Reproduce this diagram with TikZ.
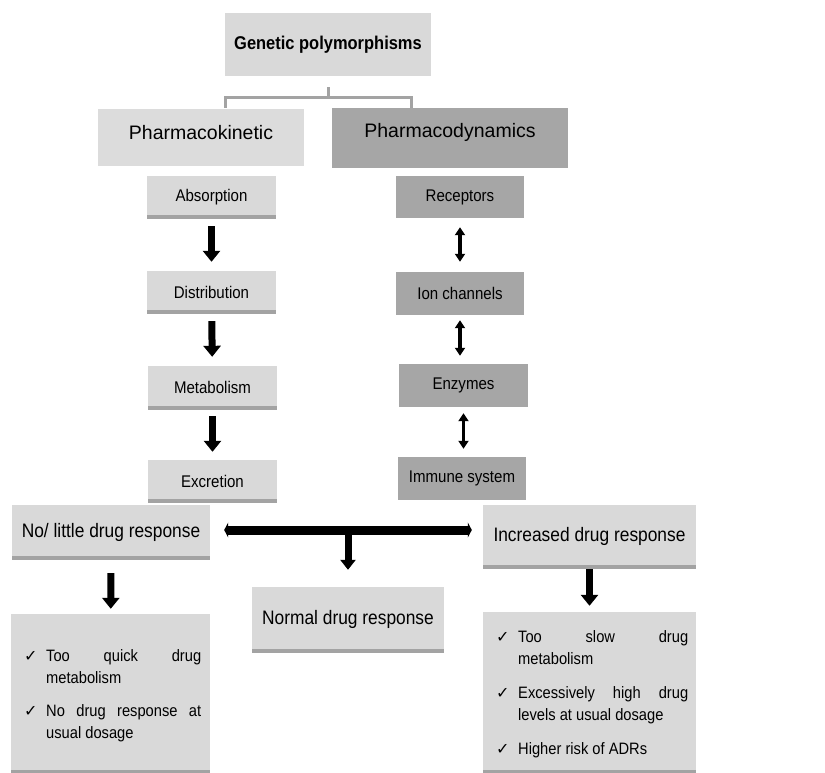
\documentclass[tikz,border=0pt]{standalone}
\usepackage{fontspec}
\setmainfont{Liberation Sans}
\newfontfamily\narrowfont[FakeStretch=0.89]{Liberation Sans}
\newfontfamily\symfont{DejaVu Sans}
\usetikzlibrary{arrows.meta}
\definecolor{lightbox}{HTML}{D9D9D9}
\definecolor{pkbox}{HTML}{DCDCDC}
\definecolor{darkbox}{HTML}{A6A6A6}
\definecolor{edgegray}{HTML}{A3A3A3}
\newcommand{\chk}{\makebox[22pt][l]{\symfont\fontsize{16}{16}\selectfont ✓}}
\tikzset{
  box/.style={rectangle, inner sep=0pt, text=black},
  lbox/.style={box, fill=lightbox, path picture={\draw[edgegray, line width=6pt] (path picture bounding box.south west) -- (path picture bounding box.south east);}},
  dbox/.style={box, fill=darkbox},
  smallfont/.style={font=\narrowfont\fontsize{16.9}{20}\selectfont},
  midfont/.style={font=\narrowfont\fontsize{19.5}{23}\selectfont},
  bigfont/.style={font=\fontsize{19.5}{23}\selectfont},
  listfont/.style={font=\narrowfont\fontsize{16.5}{22}\selectfont},
  flowarrow/.style={line width=7pt, -{Triangle[length=11pt,width=17pt]}},
  linkarrow/.style={line width=3.5pt, {Triangle[length=8pt,width=10pt]}-{Triangle[length=8pt,width=10pt]}},
  barrow/.style={line width=9pt, {Triangle[length=4pt,width=15pt]}-{Triangle[length=4pt,width=15pt]}},
  bracket/.style={edgegray, line width=3pt},
}
\begin{document}
\begin{tikzpicture}[x=1pt,y=-1pt]
\useasboundingbox (0,0) rectangle (825,773);
% top
\node[box, fill=lightbox, minimum width=206pt, minimum height=63pt, font=\narrowfont\bfseries\fontsize{18.5}{22}\selectfont] (gen) at (328,44.5) {Genetic polymorphisms};
\node[box, fill=pkbox, minimum width=206pt, minimum height=57pt, bigfont, text height=14pt, text depth=10pt] (pk) at (201,137.5) {Pharmacokinetic};
\node[dbox, minimum width=236pt, minimum height=60pt, bigfont, text height=14pt, text depth=15pt] (pd) at (450,138) {Pharmacodynamics};
\coordinate (bl) at (225,108);
\coordinate (br) at (411,108);
\draw[bracket] ([yshift=-11pt]gen.south) -- ++(0,10) coordinate (bj);
\draw[bracket] (bl) |- (bj) -| (br);
% pharmacokinetic chain
\node[lbox, minimum width=129pt, minimum height=42pt, smallfont] (abs) at (211.5,197) {Absorption};
\node[lbox, minimum width=129pt, minimum height=42pt, smallfont] (dist) at (211.5,292) {Distribution};
\node[lbox, minimum width=129pt, minimum height=43pt, smallfont] (met) at (212.5,387.5) {Metabolism};
\node[lbox, minimum width=129pt, minimum height=42pt, smallfont] (exc) at (212.5,481) {Excretion};
\draw[flowarrow, shorten <=8pt, shorten >=9pt] (abs) -- (dist);
\draw[flowarrow, shorten <=8pt, shorten >=9pt] (dist) -- (met);
\draw[flowarrow, shorten <=7pt, shorten >=8pt] (met) -- (exc);
% pharmacodynamic chain
\node[dbox, minimum width=128pt, minimum height=42pt, smallfont] (rec) at (460,197) {Receptors};
\node[dbox, minimum width=128pt, minimum height=43pt, smallfont] (ion) at (460,293.5) {Ion channels};
\node[dbox, minimum width=129pt, minimum height=43pt, smallfont] (enz) at (463.5,385.5) {Enzymes};
\node[dbox, minimum width=128pt, minimum height=43pt, smallfont] (imm) at (462,478.5) {Immune system};
\draw[linkarrow, shorten <=9pt, shorten >=10pt] (rec.south) -- (rec.south |- ion.north);
\draw[linkarrow, shorten <=5pt, shorten >=8pt] (ion.south) -- (ion.south |- enz.north);
\draw[linkarrow, shorten <=6pt, shorten >=8pt] (enz.south) -- (enz.south |- imm.north);
% responses
\node[lbox, minimum width=198pt, minimum height=54pt, midfont] (nol) at (111,532) {No/ little drug response};
\node[lbox, minimum width=213pt, minimum height=63pt, midfont] (inc) at (589.5,536.5) {Increased drug response};
\node[lbox, minimum width=192pt, minimum height=65pt, midfont] (norm) at (348,619.5) {Normal drug response};
\draw[barrow, shorten <=14pt, shorten >=11pt] ([yshift=2pt]nol.east) -- ([yshift=2pt]nol.east -| inc.west);
\draw[line width=7pt, -{Triangle[length=10pt,width=15pt]}, shorten >=17pt] ([yshift=6pt]norm.north |- nol.east) -- (norm.north);
% lists
\node[lbox, minimum width=199pt, minimum height=159pt] (ll) at (110.5,693.5) {};
\node[lbox, minimum width=213pt, minimum height=161pt] (rl) at (589.5,692.5) {};
\draw[flowarrow, shorten <=14pt, shorten >=5pt] (nol) -- (ll);
\draw[flowarrow, shorten <=1pt, shorten >=6pt] (inc) -- (rl);
\node[listfont, anchor=north west, inner sep=0pt, text width=177pt, align=justify] (lt) at (24,649) {%
\hangindent=22pt\hangafter=1\chk Too quick drug\linebreak metabolism\par\vspace{11pt}
\hangindent=22pt\hangafter=1\chk No drug response at\linebreak usual dosage\par};
\node[listfont, anchor=north west, inner sep=0pt, text width=192pt, align=justify] (rt) at (496,630) {%
\hangindent=22pt\hangafter=1\chk Too slow drug\linebreak metabolism\par\vspace{12pt}
\hangindent=22pt\hangafter=1\chk Excessively high drug\linebreak levels at usual dosage\par\vspace{12pt}
\hangindent=22pt\hangafter=1\chk Higher risk of ADRs\par};
\end{tikzpicture}
\end{document}
